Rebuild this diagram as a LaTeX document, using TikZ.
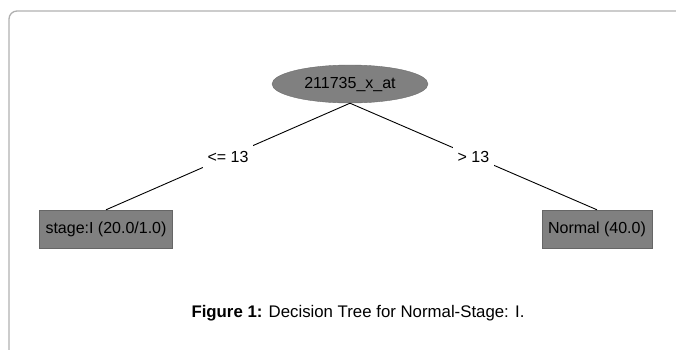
\documentclass[tikz,border=0pt]{standalone}
\usepackage{fontspec}
\setmainfont{Liberation Sans}
\usetikzlibrary{shapes.geometric}

\definecolor{wekagray}{RGB}{128,128,128}
\definecolor{framegray}{RGB}{176,176,176}

\begin{document}
\begin{tikzpicture}[x=1pt,y=-1pt,
    attr/.style={ellipse,fill=wekagray,draw=wekagray!85!black,minimum width=156pt,minimum height=38pt,inner sep=0pt,font=\fontsize{16}{18}\selectfont},
    leaf/.style={rectangle,fill=wekagray,draw=wekagray!80!black,minimum height=38pt,inner xsep=6pt,font=\fontsize{16}{18}\selectfont},
    cond/.style={fill=white,inner xsep=5pt,minimum height=25pt,font=\fontsize{16}{18}\selectfont}]
        \useasboundingbox (0,0) rectangle (676,349);
        \draw[framegray,line width=1.3pt,rounded corners=8pt] (700,11) -- (9,11) -- (9,380);
        \node[attr] (root) at (350,84) {211735\_x\_at};
        \node[leaf] (stage) at (106,229) {stage:I (20.0/1.0)};
        \node[leaf] (normal) at (597,229) {Normal (40.0)};
        \draw[line width=0.9pt] (root.south) -- node[cond] (le) {<= 13} (stage.north);
        \draw[line width=0.9pt] (root.south) -- node[cond] (gt) {> 13} (normal.north);
        \node[font=\fontsize{16.8}{20}\selectfont] (caption) at (358,313) {\textbf{Figure 1:} Decision Tree for Normal-Stage: I.};
    \end{tikzpicture}
\end{document}
